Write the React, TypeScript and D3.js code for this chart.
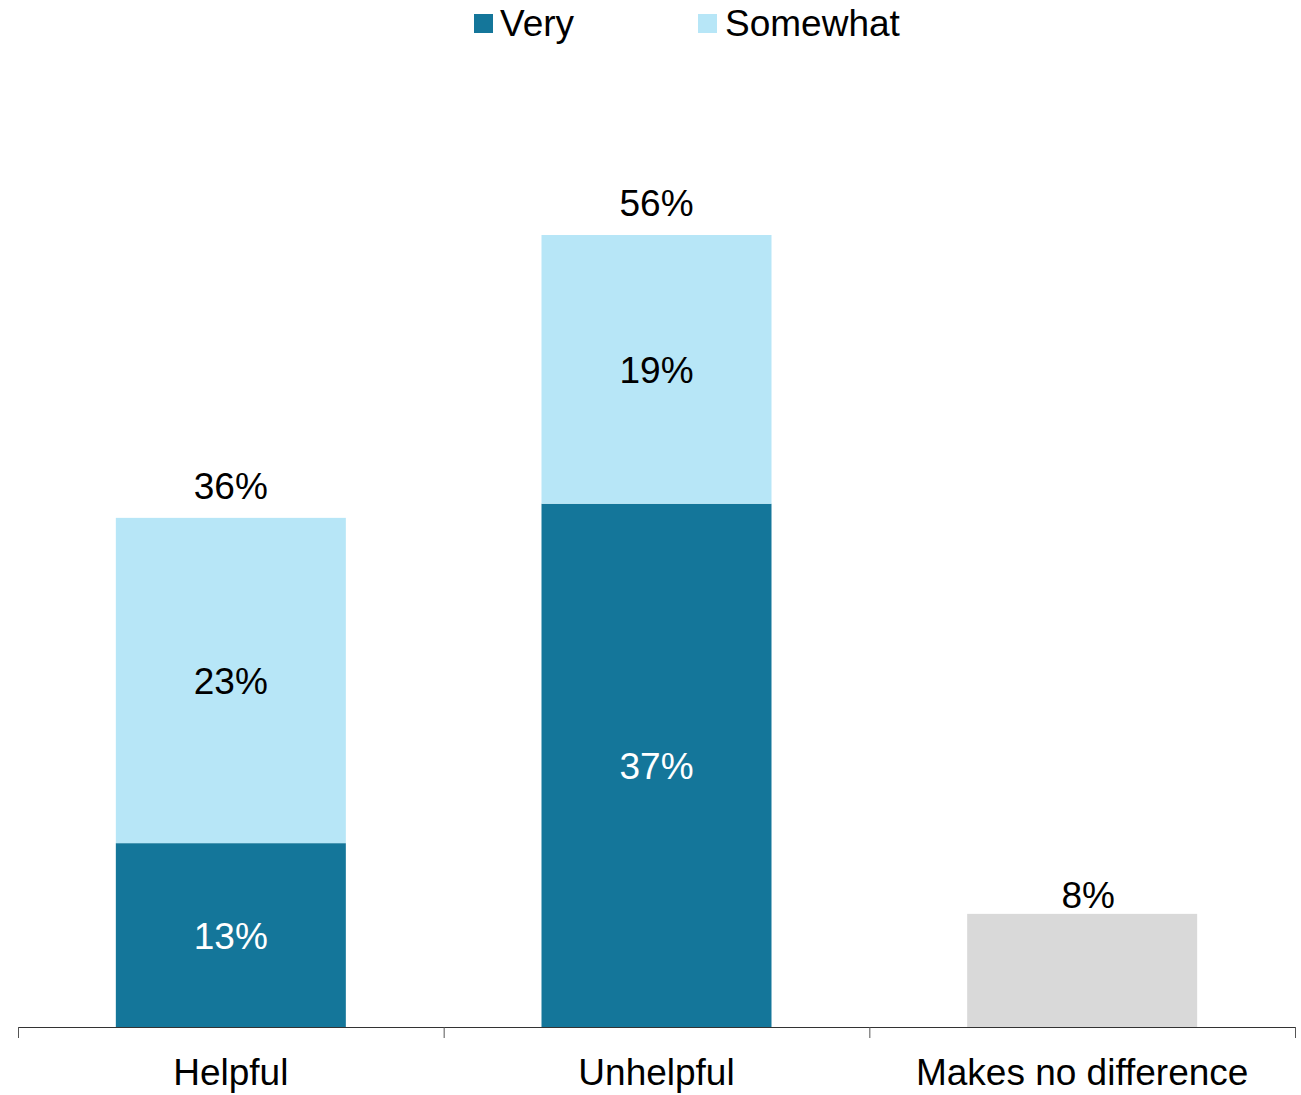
import React from "react";
import * as d3 from "d3";

const categories = ["Helpful", "Unhelpful", "Makes no difference"];
const veryValues = [13, 37, 0];
const somewhatValues = [23, 19, 0];
const neutralValues = [0, 0, 8];
const totals = [36, 56, 8];
const legendLabels = ["Very", "Somewhat"];

const W = 1301;
const H = 1095;
const FONT = "'Liberation Sans', Arial, sans-serif";
const C_VERY = "#14769A";
const C_SOME = "#B7E6F7";
const C_GREY = "#D9D9D9";

export default function App() {
  const x = d3.scaleBand<string>().domain(categories).range([18, 1295]).paddingInner(0).paddingOuter(0);
  const y = d3.scaleLinear().domain([0, 56]).range([1027, 235]);
  const bw = 230;
  const fs = 37;

  return (
    <svg width={W} height={H} style={{ position: "absolute", left: 0, top: 0, display: "block" }} fontFamily={FONT}>
      <rect width={W} height={H} fill="#fff" />
      {/* legend */}
      <rect x={474} y={14} width={19} height={19} fill={C_VERY} />
      <text x={500} y={36} fontSize={fs} fill="#000">{legendLabels[0]}</text>
      <rect x={698} y={14} width={19} height={19} fill={C_SOME} />
      <text x={725} y={36} fontSize={fs} fill="#000">{legendLabels[1]}</text>

      {categories.map((c, i) => {
        const cx = (x(c) as number) + x.bandwidth() / 2;
        const x0 = cx - bw / 2;
        const v = veryValues[i];
        const s = somewhatValues[i];
        const n = neutralValues[i];
        const els: React.ReactNode[] = [];
        if (v > 0) {
          els.push(<rect key="v" x={x0} y={y(v)} width={bw} height={y(0) - y(v)} fill={C_VERY} />);
          els.push(
            <text key="vt" x={cx} y={(y(0) + y(v)) / 2 + 13.5} fontSize={fs} fill="#fff" textAnchor="middle">{v}%</text>
          );
        }
        if (s > 0) {
          els.push(<rect key="s" x={x0} y={y(v + s)} width={bw} height={y(v) - y(v + s)} fill={C_SOME} />);
          els.push(
            <text key="st" x={cx} y={(y(v) + y(v + s)) / 2 + 13.5} fontSize={fs} fill="#000" textAnchor="middle">{s}%</text>
          );
        }
        if (n > 0) {
          els.push(<rect key="n" x={x0} y={y(n)} width={bw} height={y(0) - y(n)} fill={C_GREY} />);
        }
        const top = v + s + n;
        const gap = n > 0 ? 6 : 19;
        const dx = n > 0 ? 6 : 0;
        els.push(
          <text key="tt" x={cx + dx} y={y(top) - gap} fontSize={fs} fill="#000" textAnchor="middle">{totals[i]}%</text>
        );
        els.push(
          <text key="cl" x={cx} y={1085} fontSize={fs} fill="#000" textAnchor="middle">{c}</text>
        );
        return <g key={c}>{els}</g>;
      })}

      {/* axis */}
      <line x1={18} x2={1295} y1={1027.5} y2={1027.5} stroke="#333" strokeWidth={1} />
      {[...categories.map((c) => x(c) as number), 1295].map((t, i) => (
        <line key={i} x1={t + 0.5} x2={t + 0.5} y1={1027} y2={1038} stroke="#555" strokeWidth={1} />
      ))}
    </svg>
  );
}
